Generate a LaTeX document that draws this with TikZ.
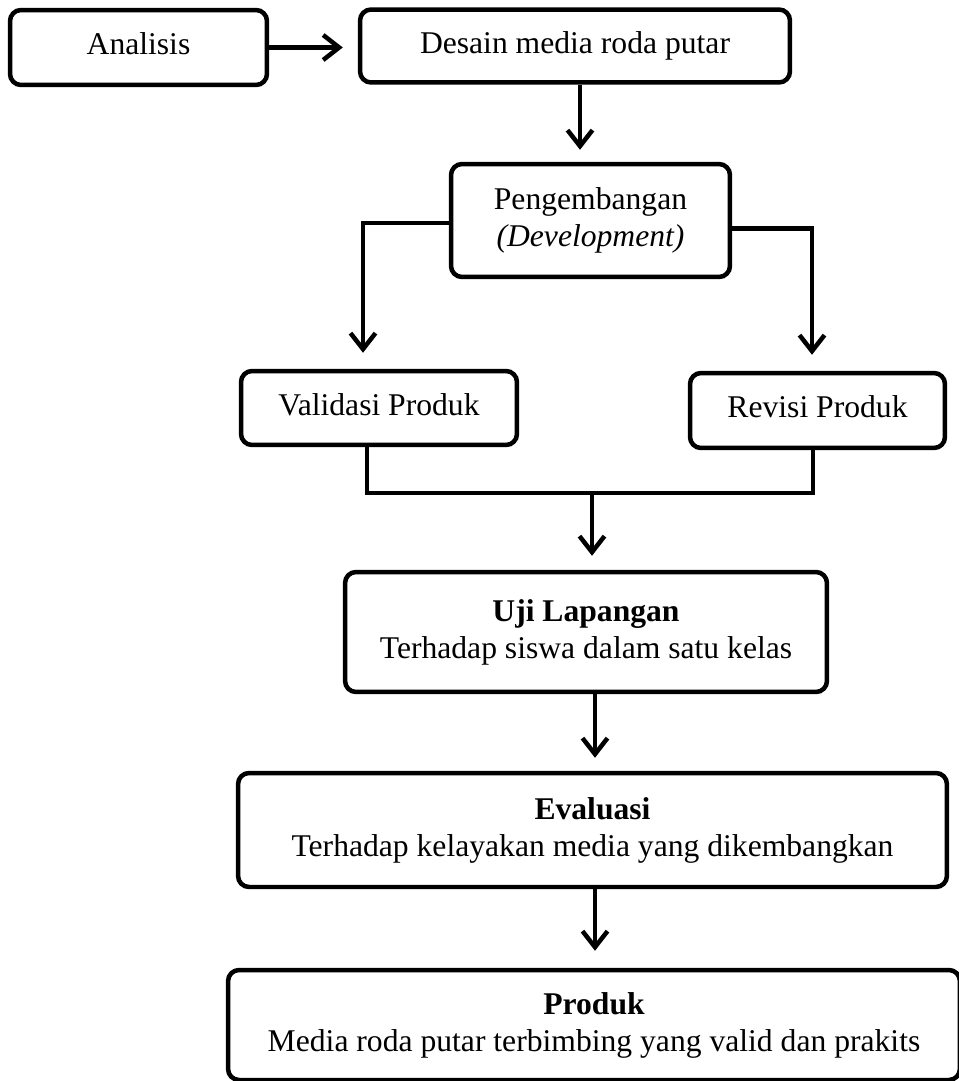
\documentclass[tikz,border=0pt]{standalone}
\usepackage{fontspec}
\setmainfont{Liberation Serif}
\usepackage{tikz}
\usetikzlibrary{arrows.meta, positioning, calc}

\tikzset{
    kotak/.style={draw, line width=0.09cm, rounded corners=0.22cm, align=center, inner sep=0pt},
    satu/.style={text height=12pt, text depth=3.5pt},
    garis/.style={line width=0.09cm},
    panah/.style={line width=0.09cm, -{Straight Barb[length=0.32cm, width=0.5cm]}}
}

\begin{document}
\begin{tikzpicture}[x=0.02cm, y=-0.02cm, font=\fontsize{18}{21}\selectfont]
            \useasboundingbox (0,0) rectangle (958,1081);

            \node[kotak, satu, minimum width=5.14cm, minimum height=1.5cm] (analisis) at (138.5,47.5) {Analisis};
            \node[kotak, satu, minimum width=8.6cm, minimum height=1.46cm] (desain) at (575,46) {Desain media roda putar};
            \node[kotak, minimum width=5.58cm, minimum height=2.26cm] (pengembangan) at (590.5,220.5) {Pengembangan\\\textit{(Development)}};
            \node[kotak, satu, minimum width=5.52cm, minimum height=1.48cm] (validasi) at (379,408) {Validasi Produk};
            \node[kotak, satu, minimum width=5.1cm, minimum height=1.5cm] (revisi) at (817.5,410.5) {Revisi Produk};
            \node[kotak, minimum width=9.64cm, minimum height=2.4cm] (uji) at (586,632) {\textbf{Uji Lapangan}\\Terhadap siswa dalam satu kelas};
            \node[kotak, minimum width=14.18cm, minimum height=2.28cm] (evaluasi) at (592.5,830) {\textbf{Evaluasi}\\Terhadap kelayakan media yang dikembangkan};
            \node[kotak, minimum width=14.64cm, minimum height=2.2cm] (produk) at (594,1025) {\textbf{Produk}\\Media roda putar terbimbing yang valid dan prakits};

            \coordinate (gabung) at (592,493);

            \draw[panah, shorten >=0.3cm] (analisis.east) -- (analisis.east -| desain.west);
            \draw[panah, shorten >=0.24cm] ([xshift=0.1cm]desain.south) -- ([xshift=0.1cm]desain.south |- pengembangan.north);
            \draw[panah, shorten >=0.32cm] ([yshift=-0.05cm]pengembangan.west) -| ([xshift=-0.32cm]validasi.north);
            \draw[panah, shorten >=0.32cm] ([yshift=-0.16cm]pengembangan.east) -| ([xshift=-0.11cm]revisi.north);
            \draw[garis] ([xshift=-0.24cm]validasi.south) |- (gabung) -| ([xshift=-0.09cm]revisi.south);
            \draw[panah, shorten >=0.28cm] (gabung) -- (gabung |- uji.north);
            \draw[panah, shorten >=0.26cm] ([xshift=0.18cm]uji.south) -- ([xshift=0.18cm]uji.south |- evaluasi.north);
            \draw[panah, shorten >=0.34cm] ([xshift=0.05cm]evaluasi.south) -- ([xshift=0.05cm]evaluasi.south |- produk.north);
        \end{tikzpicture}
\end{document}
